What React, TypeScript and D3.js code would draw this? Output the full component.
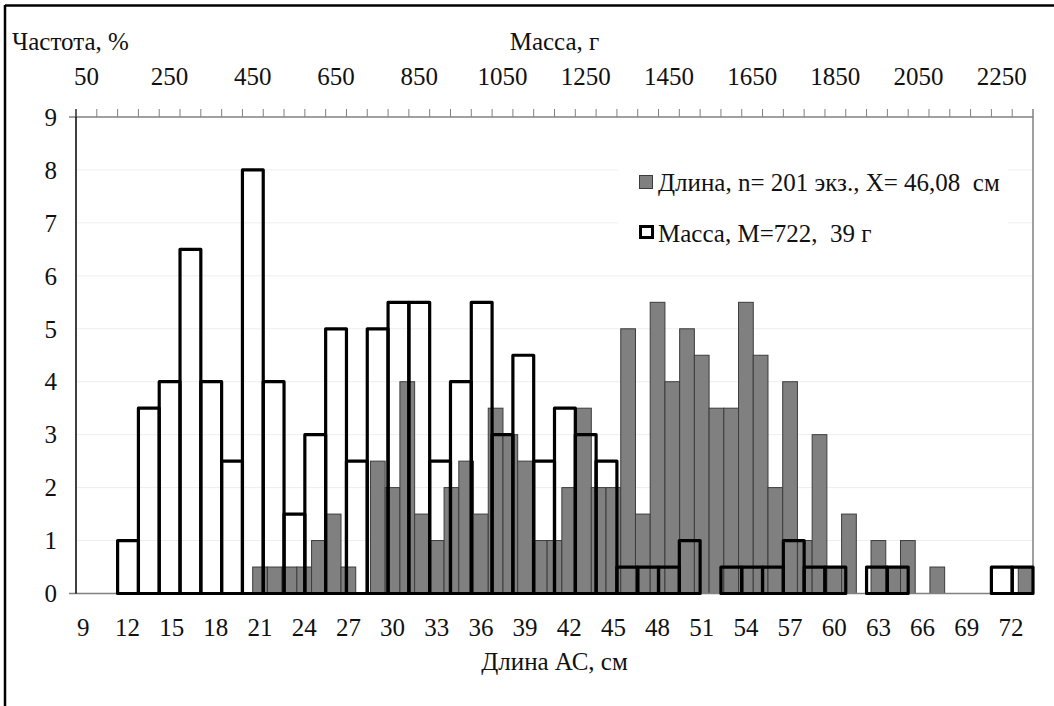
import * as d3 from "d3";

// length classes, cm (bottom axis)
const lengthCats = [
  9, 10, 11, 12, 13, 14, 15, 16, 17, 18, 19, 20, 21, 22, 23, 24, 25, 26, 27, 28, 29, 30,
  31, 32, 33, 34, 35, 36, 37, 38, 39, 40, 41, 42, 43, 44, 45, 46, 47, 48, 49, 50, 51,
  52, 53, 54, 55, 56, 57, 58, 59, 60, 61, 62, 63, 64, 65, 66, 67, 68, 69, 70, 71, 72, 73
];
const lengthValues = [
  0, 0, 0, 0, 0, 0, 0, 0, 0, 0, 0, 0, 0.5, 0.5, 0.5, 0.5, 1, 1.5, 0.5, 0, 2.5, 2,
  4, 1.5, 1, 2, 2.5, 1.5, 3.5, 3, 2.5, 1, 1, 2, 3.5, 2, 2, 5, 1.5, 5.5, 4, 5, 4.5,
  3.5, 3.5, 5.5, 4.5, 2, 4, 1, 3, 0.5, 1.5, 0, 1, 0.5, 1, 0, 0.5, 0, 0, 0, 0, 0, 0.5
];
const lengthTicks = [9, 12, 15, 18, 21, 24, 27, 30, 33, 36, 39, 42, 45, 48, 51, 54, 57, 60, 63, 66, 69, 72];

// mass classes, g (top axis)
const massCats = [
  50, 100, 150, 200, 250, 300, 350, 400, 450, 500, 550, 600, 650, 700, 750, 800,
  850, 900, 950, 1000, 1050, 1100, 1150, 1200, 1250, 1300, 1350, 1400, 1450, 1500,
  1550, 1600, 1650, 1700, 1750, 1800, 1850, 1900, 1950, 2000, 2050, 2100, 2150,
  2200, 2250, 2300
];
const massValues = [
  0, 0, 1, 3.5, 4, 6.5, 4, 2.5, 8, 4, 1.5, 3, 5, 2.5, 5, 5.5, 5.5, 2.5, 4, 5.5, 3,
  4.5, 2.5, 3.5, 3, 2.5, 0.5, 0.5, 0.5, 1, 0, 0.5, 0.5, 0.5, 1, 0.5, 0.5, 0, 0.5,
  0.5, 0, 0, 0, 0, 0.5, 0.5
];
const massTicks = [50, 250, 450, 650, 850, 1050, 1250, 1450, 1650, 1850, 2050, 2250];

const yTicks = [0, 1, 2, 3, 4, 5, 6, 7, 8, 9];

const font = "'Liberation Serif', 'Times New Roman', serif";
const fs = 25;

export default function App() {
  const width = 1054;
  const height = 706;
  const left = 76;
  const right = 1033;
  const top = 117;
  const bottom = 593.5;

  const xLen = d3.scaleBand<number>(lengthCats, [left, right]).padding(0);
  const xMass = d3.scaleBand<number>(massCats, [left, right]).padding(0);
  const y = d3.scaleLinear([0, 9], [bottom, top]);

  return (
    <svg
      width={width}
      height={height}
      style={{ position: "absolute", left: 0, top: 0, background: "#fff" }}
      fontFamily={font}
    >
      {/* outer frame */}
      <line x1={5} x2={width} y1={5.5} y2={5.5} stroke="#000" strokeWidth={2.5} />
      <line x1={5} x2={5} y1={5} y2={height} stroke="#000" strokeWidth={2.5} />

      {/* gridlines */}
      <g stroke="#eeeeee" strokeWidth={1}>
        {yTicks.slice(1, -1).map((t) => (
          <line key={t} x1={left} x2={right} y1={y(t)} y2={y(t)} />
        ))}
      </g>

      {/* length bars */}
      <g fill="#808080" stroke="#3c3c3c" strokeWidth={1}>
        {lengthCats.map((c, i) =>
          lengthValues[i] > 0 ? (
            <rect
              key={c}
              x={xLen(c)!}
              y={y(lengthValues[i])}
              width={xLen.bandwidth()}
              height={y(0) - y(lengthValues[i])}
            />
          ) : null
        )}
      </g>

      {/* axes lines */}
      <line x1={69} x2={right} y1={bottom} y2={bottom} stroke="#808080" strokeWidth={1.5} />
      <line x1={69} x2={right} y1={top} y2={top} stroke="#808080" strokeWidth={1.5} />
      <line x1={right} x2={right} y1={top - 8} y2={bottom} stroke="#808080" strokeWidth={1.5} />
      <line x1={left} x2={left} y1={top - 8} y2={bottom} stroke="#000" strokeWidth={1.5} />
      <g stroke="#808080" strokeWidth={1}>
        {massCats.map((c) => (
          <line key={c} x1={xMass(c)!} x2={xMass(c)!} y1={top - 8} y2={top} />
        ))}
      </g>

      {/* mass bars */}
      <g fill="none" stroke="#000" strokeWidth={3.2} strokeLinejoin="round">
        {massCats.map((c, i) =>
          massValues[i] > 0 ? (
            <rect
              key={c}
              x={xMass(c)!}
              y={y(massValues[i])}
              width={xMass.bandwidth()}
              height={y(0) - y(massValues[i])}
            />
          ) : null
        )}
      </g>

      {/* y labels */}
      <g fontSize={fs} fill="#111" textAnchor="end">
        {yTicks.map((t) => (
          <text key={t} x={57} y={y(t)} dy="0.35em">
            {t}
          </text>
        ))}
      </g>

      {/* bottom labels */}
      <g fontSize={fs} fill="#111" textAnchor="middle">
        {lengthTicks.map((t) => (
          <text key={t} x={xLen(t)! + xLen.bandwidth() / 2} y={636}>
            {t}
          </text>
        ))}
      </g>

      {/* top labels */}
      <g fontSize={fs} fill="#111" textAnchor="middle">
        {massTicks.map((t) => (
          <text key={t} x={xMass(t)! + xMass.bandwidth() / 2} y={85}>
            {t}
          </text>
        ))}
      </g>

      {/* titles */}
      <text x={12} y={50} fontSize={fs} fill="#111">
        Частота, %
      </text>
      <text x={(left + right) / 2} y={50} fontSize={fs} fill="#111" textAnchor="middle">
        Масса, г
      </text>
      <text x={(left + right) / 2} y={670} fontSize={fs} fill="#111" textAnchor="middle">
        Длина АС, см
      </text>

      {/* legend */}
      <rect x={618} y={150} width={390} height={110} fill="#fff" />
      <rect x={639.5} y={175.5} width={13} height={13} fill="#808080" stroke="#3c3c3c" strokeWidth={1} />
      <text x={658} y={191} fontSize={fs} fill="#111">
        {"Длина, n= 201 экз., X= 46,08\u00a0 см"}
      </text>
      <rect x={640.5} y={226.5} width={12} height={11} fill="#fff" stroke="#000" strokeWidth={3} />
      <text x={658} y={242} fontSize={fs} fill="#111">
        {"Масса, М=722,\u00a0 39 г"}
      </text>
    </svg>
  );
}
